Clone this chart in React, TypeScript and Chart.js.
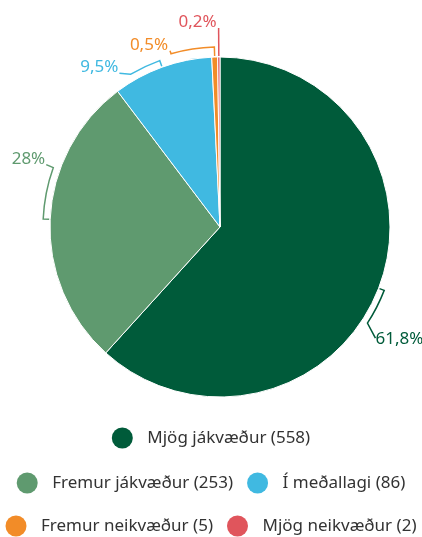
import React, { useEffect, useRef } from 'react';
import { Chart, registerables } from 'chart.js';

Chart.register(...registerables);

// ---- Data ----
const categories = ['Mjög jákvæður', 'Fremur jákvæður', 'Í meðallagi', 'Fremur neikvæður', 'Mjög neikvæður'];
const counts = [558, 253, 86, 5, 2];
const percentLabels = ['61,8%', '28%', '9,5%', '0,5%', '0,2%'];
const colors = ['#005B3A', '#5F9A6F', '#40B9E1', '#F28C28', '#E0555C'];

// ---- Callout geometry (style only) ----
const calloutLayout = [
  { ro: 6, span: 12, cdx: 8, cdy: 15, tx: 0, ty: 1, align: 'left' },
  { ro: 7, span: 17, cdx: -7, cdy: -3, tx: -1, ty: -6, align: 'right' },
  { ro: 7, span: -10.5, cdx: -11, cdy: -1, tx: -1, ty: -6, align: 'right' },
  { ro: 10, span: -14, cdx: -1, cdy: -3, tx: -2, ty: -6, align: 'right' },
  { ro: 29, span: 0, cdx: 0, cdy: 0, tx: -2, ty: -6, align: 'right' },
];

const FONT = '"Noto Sans", "Open Sans", sans-serif';

const calloutPlugin = {
  id: 'callouts',
  afterDatasetsDraw(chart: any) {
    const ctx = chart.ctx as CanvasRenderingContext2D;
    const meta = chart.getDatasetMeta(0);
    meta.data.forEach((arc: any, i: number) => {
      const { x, y, startAngle, endAngle, outerRadius } = arc.getProps(
        ['x', 'y', 'startAngle', 'endAngle', 'outerRadius'],
        true
      );
      const L = calloutLayout[i];
      const mid = (startAngle + endAngle) / 2;
      const rb = outerRadius + L.ro;
      const pt = (a: number, r: number) => [x + r * Math.cos(a), y + r * Math.sin(a)];
      const end = mid + (L.span * Math.PI) / 180;
      ctx.save();
      ctx.strokeStyle = colors[i];
      ctx.lineWidth = 1.5;
      ctx.beginPath();
      const p0 = pt(mid, outerRadius + 1);
      ctx.moveTo(p0[0], p0[1]);
      if (L.span !== 0) {
        ctx.arc(x, y, rb, mid, end, L.span < 0);
      } else {
        const p1 = pt(mid, rb);
        ctx.lineTo(p1[0], p1[1]);
      }
      const p2 = pt(end, rb);
      const p3 = [p2[0] + L.cdx, p2[1] + L.cdy];
      ctx.lineTo(p3[0], p3[1]);
      ctx.stroke();
      ctx.fillStyle = colors[i];
      ctx.font = '17px ' + FONT;
      ctx.textAlign = L.align as CanvasTextAlign;
      ctx.textBaseline = 'middle';
      ctx.fillText(percentLabels[i], p3[0] + L.tx, p3[1] + L.ty);
      ctx.restore();
    });
  },
};

const legendPlugin = {
  id: 'customLegend',
  afterDraw(chart: any) {
    const ctx = chart.ctx as CanvasRenderingContext2D;
    const centerX = 211;
    const maxW = 415;
    const circleR = 10.5;
    const textOff = 25;
    const gap = 14;
    const rowYs = [438, 483, 526];
    ctx.save();
    ctx.font = '17px ' + FONT;
    const items = categories.map((c, i) => {
      const text = `${c} (${counts[i]})`;
      const tw = ctx.measureText(text).width;
      return { text, w: circleR + textOff + tw, color: colors[i] };
    });
    const rows: any[][] = [];
    let cur: any[] = [];
    let curW = 0;
    items.forEach((it) => {
      const add = cur.length ? gap + it.w : it.w;
      if (cur.length && curW + add > maxW) {
        rows.push(cur);
        cur = [it];
        curW = it.w;
      } else {
        cur.push(it);
        curW += add;
      }
    });
    if (cur.length) rows.push(cur);
    rows.forEach((row, r) => {
      const total = row.reduce((s, it, k) => s + it.w + (k ? gap : 0), 0);
      let xx = centerX - total / 2;
      const yy = rowYs[r] ?? rowYs[rowYs.length - 1] + 44 * (r - rowYs.length + 1);
      row.forEach((it) => {
        const cx = xx + circleR;
        ctx.fillStyle = it.color;
        ctx.beginPath();
        ctx.arc(cx, yy, circleR, 0, Math.PI * 2);
        ctx.fill();
        ctx.fillStyle = '#333333';
        ctx.textAlign = 'left';
        ctx.textBaseline = 'middle';
        ctx.fillText(it.text, cx + textOff, yy);
        xx += it.w + gap;
      });
    });
    ctx.restore();
  },
};

export default function App() {
  const canvasRef = useRef<HTMLCanvasElement | null>(null);

  useEffect(() => {
    if (!canvasRef.current) return;
    const chart = new Chart(canvasRef.current, {
      type: 'pie',
      data: {
        labels: categories,
        datasets: [
          {
            data: counts,
            backgroundColor: colors,
            borderColor: '#ffffff',
            borderWidth: 1,
            radius: 170,
          } as any,
        ],
      },
      options: {
        responsive: false,
        maintainAspectRatio: false,
        animation: false,
        layout: { padding: { left: 50, right: 32, top: 57, bottom: 140 } },
        plugins: {
          legend: { display: false },
          tooltip: { enabled: false },
          title: { display: false },
        },
      },
      plugins: [calloutPlugin, legendPlugin],
    });
    return () => chart.destroy();
  }, []);

  return (
    <div style={{ position: 'absolute', left: 0, top: 0, width: 422, height: 537, background: '#fff' }}>
      <canvas ref={canvasRef} width={422} height={537} style={{ display: 'block', width: 422, height: 537 }} />
    </div>
  );
}
